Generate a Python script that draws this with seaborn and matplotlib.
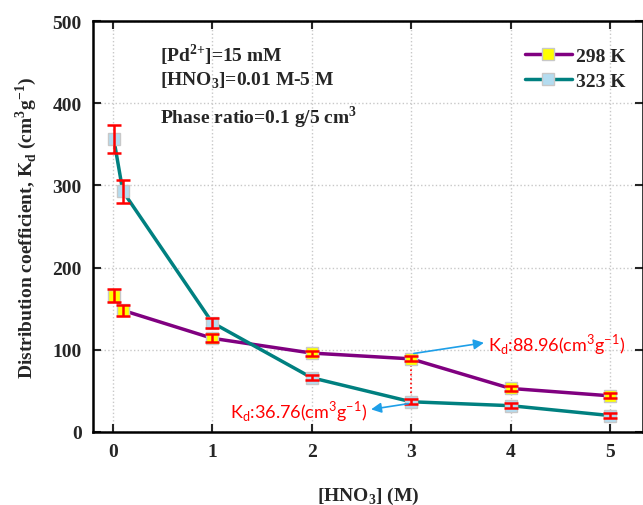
import matplotlib
matplotlib.use("Agg")
import matplotlib.pyplot as plt
import seaborn as sns
import pandas as pd
import numpy as np

hno3 = [0.01, 0.1, 1, 2, 3, 4, 5]
kd_298 = [166, 148, 114, 96, 88.96, 53, 44]
err_298 = [8, 7, 5, 3, 3, 3, 3]
kd_323 = [356, 293, 133, 66, 36.76, 32, 20]
err_323 = [17, 14, 6, 3, 3, 3, 3]
series_labels = ["298 K", "323 K"]

df = pd.concat([
    pd.DataFrame({"x": hno3, "y": kd_298, "err": err_298, "T": series_labels[0]}),
    pd.DataFrame({"x": hno3, "y": kd_323, "err": err_323, "T": series_labels[1]}),
])

sns.set_theme(style="ticks")
plt.rcParams['font.family'] = ['Liberation Serif', 'DejaVu Serif']
plt.rcParams['mathtext.fontset'] = 'custom'
plt.rcParams['mathtext.rm'] = 'Liberation Serif'
plt.rcParams['mathtext.bf'] = 'Liberation Serif:bold'
plt.rcParams['font.weight'] = 'bold'

fig = plt.figure(figsize=(6.43, 5.06), dpi=100)
ax = fig.add_axes([0.1446, 0.1443, 0.855, 0.8122])

line_colors = {"298 K": "#800080", "323 K": "#008080"}
face_colors = {"298 K": "#FFFF00", "323 K": "#B4DCF0"}

for lab in series_labels:
    sub = df[df["T"] == lab]
    sns.lineplot(data=sub, x="x", y="y", ax=ax, color=line_colors[lab], lw=2.5,
                 marker="s", markersize=9, markerfacecolor=face_colors[lab],
                 markeredgecolor="#C8C8C8", markeredgewidth=1, label=lab,
                 zorder=3)
    ax.errorbar(sub["x"], sub["y"], yerr=sub["err"], fmt="none", ecolor="#FF0000",
                elinewidth=1.8, capsize=5, capthick=1.8, zorder=4)

ax.set_xlim(-0.2, 5.33)
ax.set_ylim(0, 500)
ax.set_xticks([0, 1, 2, 3, 4, 5])
ax.set_yticks([0, 100, 200, 300, 400, 500])
ax.grid(True, ls=":", color="#C8C8C8", lw=1)
ax.tick_params(direction="in", length=6, width=1.5, top=True, right=True,
               labelsize=14, pad=8)
for t in ax.get_xticklabels() + ax.get_yticklabels():
    t.set_fontweight("bold")
for s in ax.spines.values():
    s.set_linewidth(1.8)
    s.set_color("black")

ax.set_xlabel(r"[HNO$_\mathbf{3}$] (M)", fontsize=14, fontweight="bold", labelpad=18)
ax.set_ylabel(r"Distribution coefficient, K$_\mathbf{d}$ (cm$^\mathbf{3}$g$^\mathbf{-1}$)",
              fontsize=14, fontweight="bold", labelpad=10)

ax.text(0.47, 460, r"[Pd$^\mathbf{2{+}}$]=15 mM", fontsize=14, fontweight="bold", va="center")
ax.text(0.47, 429, r"[HNO$_\mathbf{3}$]=0.01 M-5 M", fontsize=14, fontweight="bold", va="center")
ax.text(0.47, 384, r"Phase ratio=0.1 g/5 cm$^\mathbf{3}$", fontsize=14, fontweight="bold", va="center")

# vertical dotted connector at 3 M
ax.plot([3, 3], [kd_323[4], kd_298[4]], ls=":", color="#FF0000", lw=1.2, zorder=2)

ann_font = ["Lato", "DejaVu Sans"]
arrow_kw = dict(arrowstyle="-|>", color="#1E9FE8", lw=1.2, mutation_scale=15)
ax.annotate("", xy=(3.76, 109), xytext=(3.0, 95), arrowprops=arrow_kw, zorder=5)
ax.text(3.77, 107, r"K$_\mathregular{d}$:88.96(cm$^\mathregular{3}$g$^\mathregular{-1}$)",
        fontsize=13, color="#FF0000", fontweight="normal", family=ann_font,
        va="center", ha="left")
ax.annotate("", xy=(2.57, 27), xytext=(3.0, 35), arrowprops=arrow_kw, zorder=5)
ax.text(2.56, 26, r"K$_\mathregular{d}$:36.76(cm$^\mathregular{3}$g$^\mathregular{-1}$)",
        fontsize=13, color="#FF0000", fontweight="normal", family=ann_font,
        va="center", ha="right")

leg = ax.legend(loc="upper right", frameon=False, fontsize=14, handlelength=2.4,
                handletextpad=0.2, labelspacing=0.4, borderpad=0, borderaxespad=0,
                bbox_to_anchor=(0.968, 0.937))
for t in leg.get_texts():
    t.set_fontweight("bold")

fig.savefig("out.png", dpi=100)
